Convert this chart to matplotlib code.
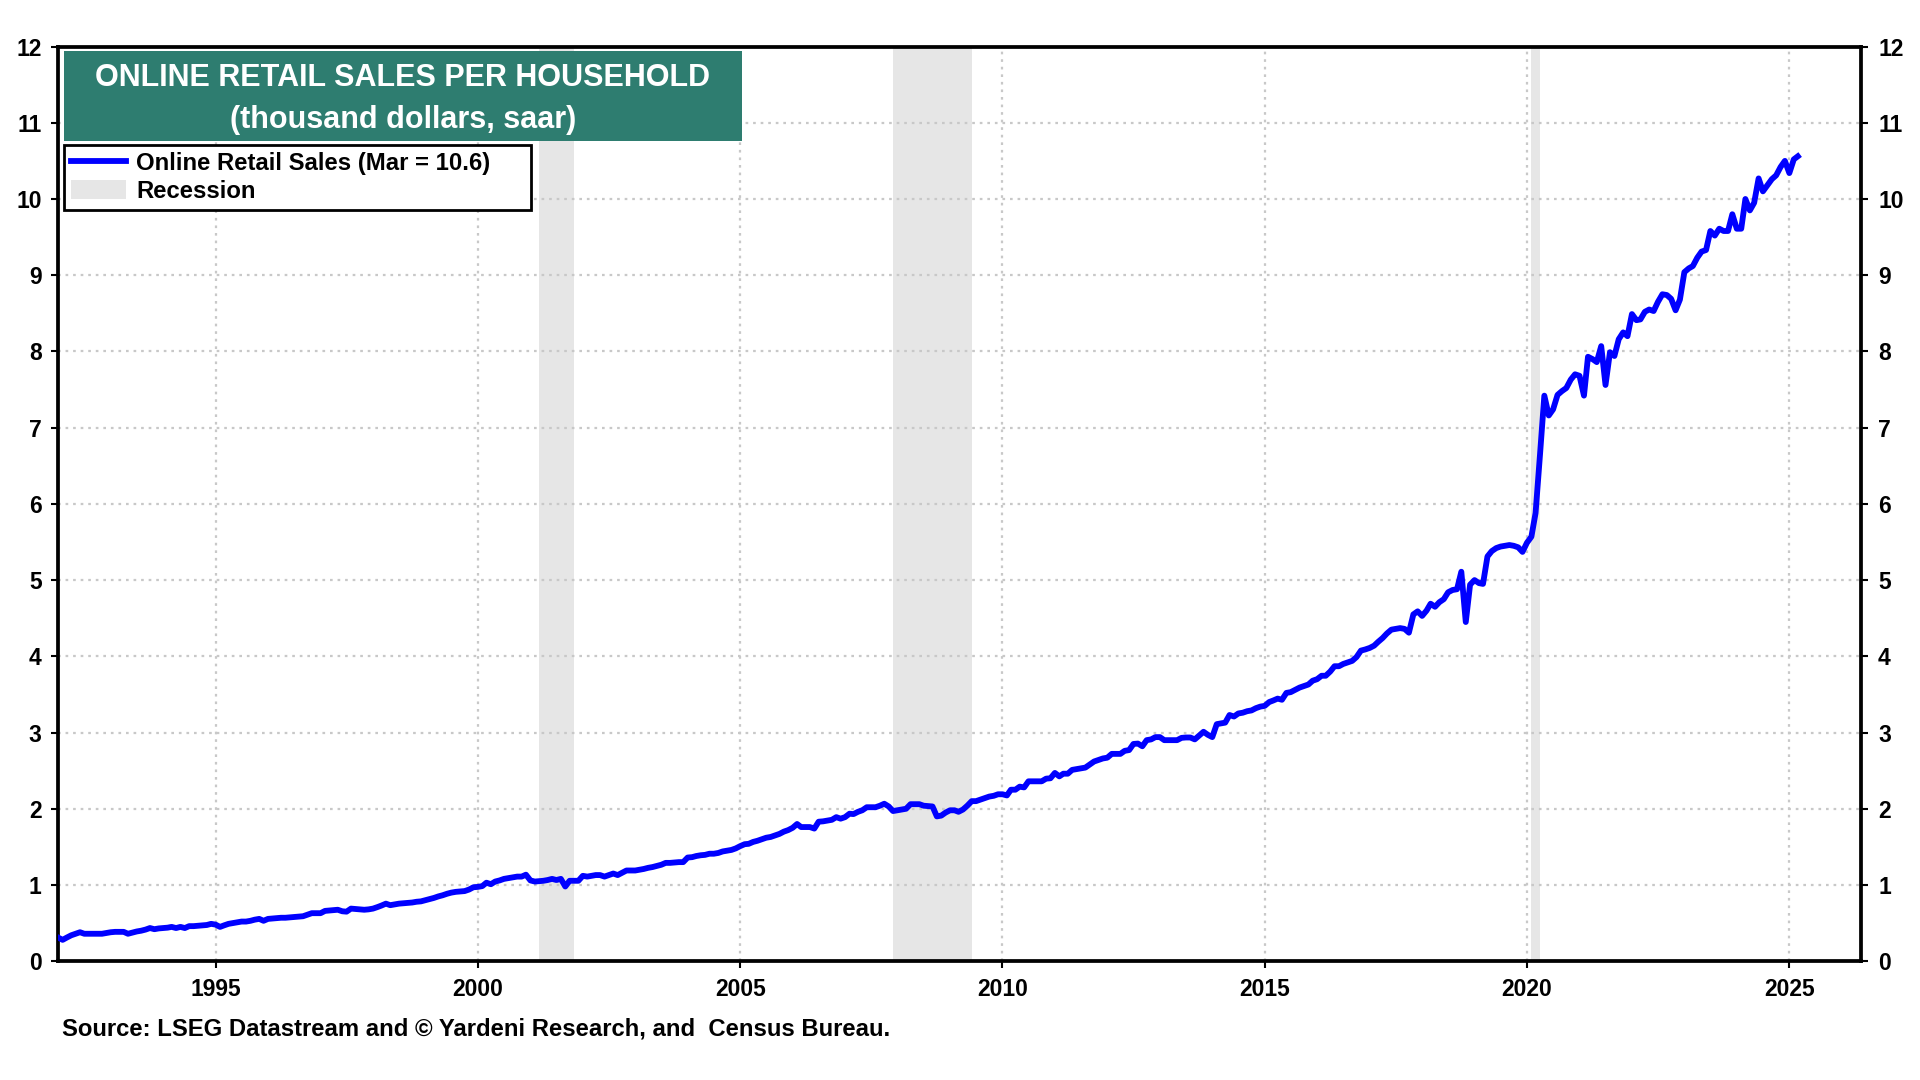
import numpy as np
import pandas as pd
import matplotlib
matplotlib.use("Agg")
import matplotlib.pyplot as plt
from matplotlib.lines import Line2D
from matplotlib.patches import Patch, Rectangle

plt.rcParams['font.family'] = ['Liberation Sans', 'DejaVu Sans']
plt.rcParams['font.weight'] = 'bold'

# ---- data (thousand dollars, saar), monthly from Jan 1992 ----
start_month = "1992-01-01"
v1992 = [0.31, 0.28, 0.31, 0.34, 0.36, 0.38, 0.36, 0.36, 0.36, 0.36, 0.36, 0.37]
v1993 = [0.38, 0.385, 0.385, 0.385, 0.36, 0.375, 0.39, 0.40, 0.415, 0.435, 0.42, 0.43]
v1994 = [0.435, 0.44, 0.45, 0.435, 0.45, 0.435, 0.46, 0.46, 0.465, 0.47, 0.475, 0.49]
v1995 = [0.48, 0.45, 0.47, 0.49, 0.50, 0.51, 0.52, 0.52, 0.53, 0.545, 0.555, 0.53]
v1996 = [0.555, 0.56, 0.565, 0.57, 0.57, 0.575, 0.58, 0.585, 0.59, 0.61, 0.63, 0.63]
v1997 = [0.63, 0.66, 0.665, 0.67, 0.675, 0.655, 0.65, 0.69, 0.685, 0.68, 0.675, 0.68]
v1998 = [0.69, 0.71, 0.73, 0.755, 0.735, 0.745, 0.755, 0.76, 0.765, 0.77, 0.78, 0.785]
v1999 = [0.80, 0.815, 0.83, 0.85, 0.865, 0.885, 0.90, 0.91, 0.915, 0.92, 0.94, 0.97]
v2000 = [0.975, 0.985, 1.03, 1.01, 1.045, 1.06, 1.08, 1.09, 1.10, 1.11, 1.11, 1.135]
v2001 = [1.06, 1.045, 1.05, 1.055, 1.065, 1.08, 1.065, 1.08, 0.98, 1.055, 1.055, 1.055]
v2002 = [1.12, 1.11, 1.12, 1.13, 1.13, 1.11, 1.13, 1.15, 1.13, 1.16, 1.19, 1.19]
v2003 = [1.19, 1.20, 1.21, 1.225, 1.235, 1.25, 1.265, 1.29, 1.29, 1.295, 1.30, 1.30]
v2004 = [1.36, 1.365, 1.38, 1.39, 1.395, 1.41, 1.41, 1.42, 1.44, 1.45, 1.46, 1.48]
v2005 = [1.51, 1.535, 1.54, 1.565, 1.58, 1.60, 1.62, 1.63, 1.65, 1.67, 1.70, 1.72]
v2006 = [1.75, 1.80, 1.76, 1.76, 1.76, 1.74, 1.83, 1.835, 1.845, 1.855, 1.89, 1.87]
v2007 = [1.89, 1.935, 1.93, 1.96, 1.98, 2.02, 2.02, 2.02, 2.04, 2.066, 2.03, 1.97]
v2008 = [1.98, 1.99, 2.00, 2.06, 2.06, 2.06, 2.04, 2.035, 2.03, 1.90, 1.91, 1.95]
v2009 = [1.98, 1.98, 1.96, 1.99, 2.04, 2.10, 2.10, 2.12, 2.14, 2.16, 2.17, 2.19]
v2010 = [2.19, 2.175, 2.25, 2.25, 2.29, 2.28, 2.36, 2.36, 2.36, 2.36, 2.395, 2.40]
v2011 = [2.47, 2.425, 2.46, 2.46, 2.51, 2.52, 2.53, 2.54, 2.58, 2.62, 2.64, 2.66]
v2012 = [2.67, 2.72, 2.72, 2.72, 2.76, 2.77, 2.85, 2.855, 2.82, 2.90, 2.91, 2.94]
v2013 = [2.94, 2.90, 2.90, 2.90, 2.90, 2.93, 2.935, 2.935, 2.91, 2.96, 3.01, 2.97]
v2014 = [2.94, 3.11, 3.12, 3.13, 3.23, 3.21, 3.25, 3.26, 3.28, 3.29, 3.32, 3.34]
v2015 = [3.35, 3.40, 3.42, 3.445, 3.43, 3.52, 3.53, 3.56, 3.59, 3.61, 3.63, 3.68]
v2016 = [3.70, 3.745, 3.745, 3.80, 3.87, 3.87, 3.90, 3.92, 3.94, 3.99, 4.075, 4.09]
v2017 = [4.11, 4.14, 4.19, 4.24, 4.30, 4.35, 4.36, 4.37, 4.36, 4.31, 4.55, 4.59]
v2018 = [4.53, 4.60, 4.69, 4.65, 4.71, 4.75, 4.84, 4.87, 4.88, 5.11, 4.45, 4.94]
v2019 = [5.00, 4.96, 4.95, 5.31, 5.38, 5.42, 5.44, 5.45, 5.46, 5.45, 5.43, 5.37]
v2020 = [5.49, 5.57, 5.88, 6.65, 7.42, 7.16, 7.24, 7.43, 7.48, 7.52, 7.63, 7.70]
v2021 = [7.68, 7.42, 7.93, 7.90, 7.86, 8.07, 7.56, 7.99, 7.94, 8.16, 8.25, 8.20]
v2022 = [8.49, 8.41, 8.42, 8.52, 8.55, 8.53, 8.65, 8.75, 8.74, 8.69, 8.54, 8.68]
v2023 = [9.04, 9.09, 9.12, 9.23, 9.31, 9.33, 9.58, 9.52, 9.61, 9.58, 9.58, 9.80]
v2024 = [9.61, 9.61, 10.00, 9.85, 9.95, 10.27, 10.10, 10.18, 10.26, 10.31, 10.42, 10.50]
v2025 = [10.34, 10.52, 10.56]

recession_starts = ["2001-03-01", "2007-12-01", "2020-02-01"]
recession_ends = ["2001-11-01", "2009-06-01", "2020-04-01"]

yticks = list(range(0, 13))
xtick_years = [1995, 2000, 2005, 2010, 2015, 2020, 2025]

title_line1 = "ONLINE RETAIL SALES PER HOUSEHOLD"
title_line2 = "(thousand dollars, saar)"
series_label = "Online Retail Sales (Mar = 10.6)"
recession_label = "Recession"
source_text = "Source: LSEG Datastream and \u00a9 Yardeni Research, and  Census Bureau."

values = (v1992 + v1993 + v1994 + v1995 + v1996 + v1997 + v1998 + v1999 + v2000 +
          v2001 + v2002 + v2003 + v2004 + v2005 + v2006 + v2007 + v2008 + v2009 +
          v2010 + v2011 + v2012 + v2013 + v2014 + v2015 + v2016 + v2017 + v2018 +
          v2019 + v2020 + v2021 + v2022 + v2023 + v2024 + v2025)
dates = pd.date_range(start_month, periods=len(values), freq="MS")

# ---- figure ----
fig = plt.figure(figsize=(19.2, 10.8), dpi=100)
ax = fig.add_axes([0.0303, 0.110, 0.9392, 0.8469])

line_color = "#0000FF"
rec_color = "#E6E6E6"
teal = "#2E7D70"

for s, e in zip(recession_starts, recession_ends):
    ax.axvspan(pd.Timestamp(s), pd.Timestamp(e), color=rec_color, lw=0, zorder=0)

ax.plot(dates, values, color=line_color, lw=4.2, zorder=3, solid_joinstyle="round")

ax.set_ylim(0, 12)
ax.set_xlim(pd.Timestamp("1992-01-01"), pd.Timestamp("2026-05-18"))
ax.set_yticks(yticks)
ax.set_xticks([pd.Timestamp(f"{y}-01-01") for y in xtick_years])
ax.set_xticklabels([str(y) for y in xtick_years])

ax.grid(True, which="major", color="#C8C8C8", linestyle=(0, (1.2, 2.2)), lw=1.6, zorder=1)
ax.set_axisbelow(True)

for sp in ax.spines.values():
    sp.set_linewidth(2.7)
    sp.set_color("black")

ax.tick_params(axis="both", which="major", direction="out", length=5, width=1.5,
               labelsize=16.5, colors="black")
ax.tick_params(axis="x", pad=7)
ax.tick_params(axis="y", pad=7, right=True, labelright=True)
for lab in ax.get_xticklabels() + ax.get_yticklabels():
    lab.set_fontweight("bold")
for t in ax.yaxis.get_major_ticks():
    t.label2.set_fontweight("bold")

# ---- title box ----
bx0, bx1, by0, by1 = 0.0332, 0.3865, 0.8696, 0.9524
fig.patches.append(Rectangle((bx0, by0), bx1 - bx0, by1 - by0, transform=fig.transFigure,
                             facecolor=teal, edgecolor="none", zorder=5))
cx = (bx0 + bx1) / 2
fig.text(cx, 0.9206, title_line1, color="white", fontsize=22, fontweight="bold",
         ha="center", va="baseline", zorder=6)
fig.text(cx, 0.8815, title_line2, color="white", fontsize=22, fontweight="bold",
         ha="center", va="baseline", zorder=6)

# ---- legend ----
handles = [Line2D([0], [0], color=line_color, lw=4.2),
           Patch(facecolor=rec_color, edgecolor="none")]
leg = fig.legend(handles, [series_label, recession_label],
                 loc="upper left", bbox_to_anchor=(0.0332, 0.8061, 0.2436, 0.0601),
                 mode="expand", bbox_transform=fig.transFigure,
                 frameon=True, fancybox=False, framealpha=1, edgecolor="black",
                 prop={"size": 17.2, "weight": "bold"}, handlelength=2.3,
                 handleheight=0.9, handletextpad=0.4, labelspacing=0.18,
                 borderpad=0.32, borderaxespad=0)
leg.get_frame().set_linewidth(2.0)

fig.text(0.0325, 0.0475, source_text, fontsize=17.2, fontweight="bold",
         ha="left", va="center", color="black")

fig.savefig("out.png", dpi=100)
